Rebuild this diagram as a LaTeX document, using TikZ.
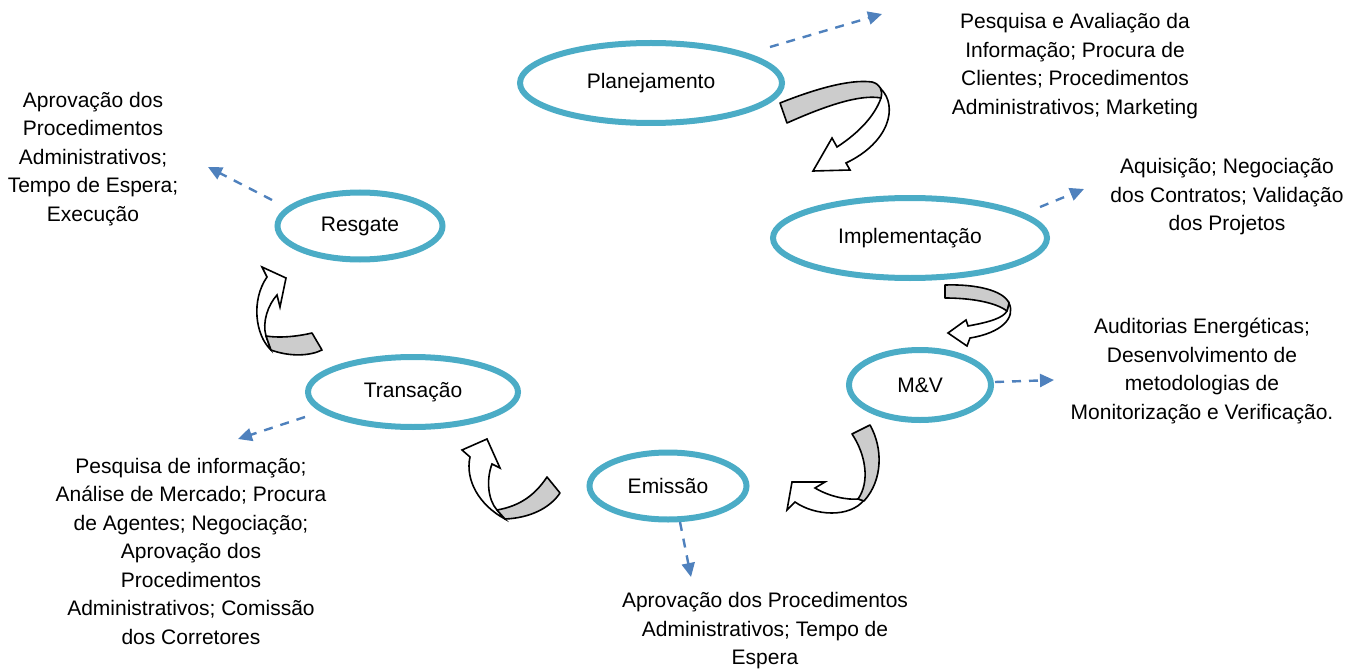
\documentclass[tikz,border=0pt]{standalone}
\usepackage{fontspec}
\setmainfont{Liberation Sans}
\usetikzlibrary{arrows.meta,shapes.geometric}
\definecolor{ringblue}{HTML}{4BACC6}
\definecolor{dashblue}{HTML}{4F81BD}
\definecolor{bandgray}{HTML}{CCCCCC}
\begin{document}
\begin{tikzpicture}[x=1pt,y=-1pt,
  every node/.style={font=\fontsize{21}{28.5}\selectfont},
  ring/.style={ellipse,draw=ringblue,line width=6pt,inner sep=0pt},
  note/.style={align=center,inner sep=0pt},
  dasharrow/.style={draw=dashblue,line width=2.4pt,dash pattern=on 9pt off 8pt,
    -{Triangle[length=14pt,width=13pt,fill=dashblue]}},
  band/.style={fill=bandgray,draw=black,line width=1.6pt,line join=round},
  body/.style={fill=white,draw=black,line width=1.6pt,line join=miter}]
\useasboundingbox (0,0) rectangle (1364,671);

% ellipses
\node[ring,minimum width=262pt,minimum height=80pt] (plan) at (651,83) {Planejamento};
\node[ring,minimum width=274pt,minimum height=80pt] (impl) at (910,238) {Implementação};
\node[ring,minimum width=142pt,minimum height=70pt] (mv) at (920,385) {M\&V};
\node[ring,minimum width=157pt,minimum height=67pt] (emis) at (668,486) {Emissão};
\node[ring,minimum width=210pt,minimum height=70pt] (trans) at (413,392) {Transação};
\node[ring,minimum width=165pt,minimum height=67pt] (resg) at (360,226) {Resgate};

% notes
\node[note] (nplan) at (1075,66) {Pesquisa e Avaliação da\\Informação; Procura de\\Clientes; Procedimentos\\Administrativos; Marketing};
\node[note] (nimpl) at (1227,197) {Aquisição; Negociação\\dos Contratos; Validação\\dos Projetos};
\node[note] (nmv) at (1202,371) {Auditorias Energéticas;\\Desenvolvimento de\\metodologias de\\Monitorização e Verificação.};
\node[note] (nemis) at (765,631) {Aprovação dos Procedimentos\\Administrativos; Tempo de\\Espera};
\node[note] (ntrans) at (191,551) {Pesquisa de informação;\\Análise de Mercado; Procura\\de Agentes; Negociação;\\Aprovação dos\\Procedimentos\\Administrativos; Comissão\\dos Corretores};
\node[note] (nresg) at (93,159) {Aprovação dos\\Procedimentos\\Administrativos;\\Tempo de Espera;\\Execução};

% dashed connectors
\coordinate (p1) at (770,47);  \coordinate (q1) at (882,14);
\coordinate (p2) at (1040,207); \coordinate (q2) at (1084,189);
\coordinate (p3) at (995,382); \coordinate (q3) at (1054,380);
\coordinate (p4) at (680,522); \coordinate (q4) at (691,577);
\coordinate (p5) at (305,417); \coordinate (q5) at (238,439);
\coordinate (p6) at (272,200); \coordinate (q6) at (208,167);
\draw[dasharrow] (p1) -- (q1);
\draw[dasharrow] (p2) -- (q2);
\draw[dasharrow] (p3) -- (q3);
\draw[dasharrow] (p4) -- (q4);
\draw[dasharrow] (p5) -- (q5);
\draw[dasharrow] (p6) -- (q6);

% curved arrow 1: Planejamento -> Implementacao
\draw[body] (881,89) .. controls (898,106) and (890,142) .. (846,163) -- (850,170) -- (813,171) -- (832,138) -- (837,147) .. controls (860,132) and (875,115) .. (881,98) -- cycle;
\draw[band] (780,103) .. controls (815,89) and (850,79) .. (872,82) .. controls (880,84) and (883,90) .. (881,98) .. controls (860,94) and (825,106) .. (787,123) -- cycle;

% curved arrow 2: Implementacao -> M&V
\draw[body] (1009,303) .. controls (1016,318) and (1001,333) .. (970,338) -- (967,346) -- (948,333) -- (966,320) -- (968,326) .. controls (990,322) and (1003,318) .. (1007,311) -- cycle;
\draw[band] (945,285) .. controls (975,284) and (1003,290) .. (1009,303) -- (1007,311) .. controls (995,302) and (970,298) .. (945,298) -- cycle;

% curved arrow 3: M&V -> Emissao
\draw[body] (864,500) .. controls (850,518) and (815,516) .. (795,502) -- (787,510) -- (792,482) -- (825,482) -- (815,488) .. controls (830,497) and (848,500) .. (858,499) -- cycle;
\draw[band] (852,434) .. controls (866,455) and (870,482) .. (858,499) -- (864,501) .. controls (883,480) and (883,448) .. (870,425) -- cycle;

% curved arrow 4: Emissao -> Transacao
\draw[body] (505,519) .. controls (479,505) and (465,480) .. (470,457) -- (462,450) -- (487,439) -- (500,468) -- (492,464) .. controls (486,480) and (488,500) .. (497,510) -- cycle;
\draw[band] (547,477) .. controls (535,495) and (520,506) .. (497,510) -- (505,519) .. controls (530,518) and (550,508) .. (560,493) -- cycle;

% curved arrow 5: Transacao -> Resgate
\draw[body] (271,350) .. controls (255,335) and (251,300) .. (267,277) -- (262,267) -- (286,278) -- (280,307) -- (277,295) .. controls (268,305) and (262,322) .. (266,336) -- cycle;
\draw[band] (312,333) .. controls (295,337) and (278,338) .. (266,336) -- (271,350) .. controls (290,357) and (310,356) .. (322,350) -- cycle;
\end{tikzpicture}
\end{document}
